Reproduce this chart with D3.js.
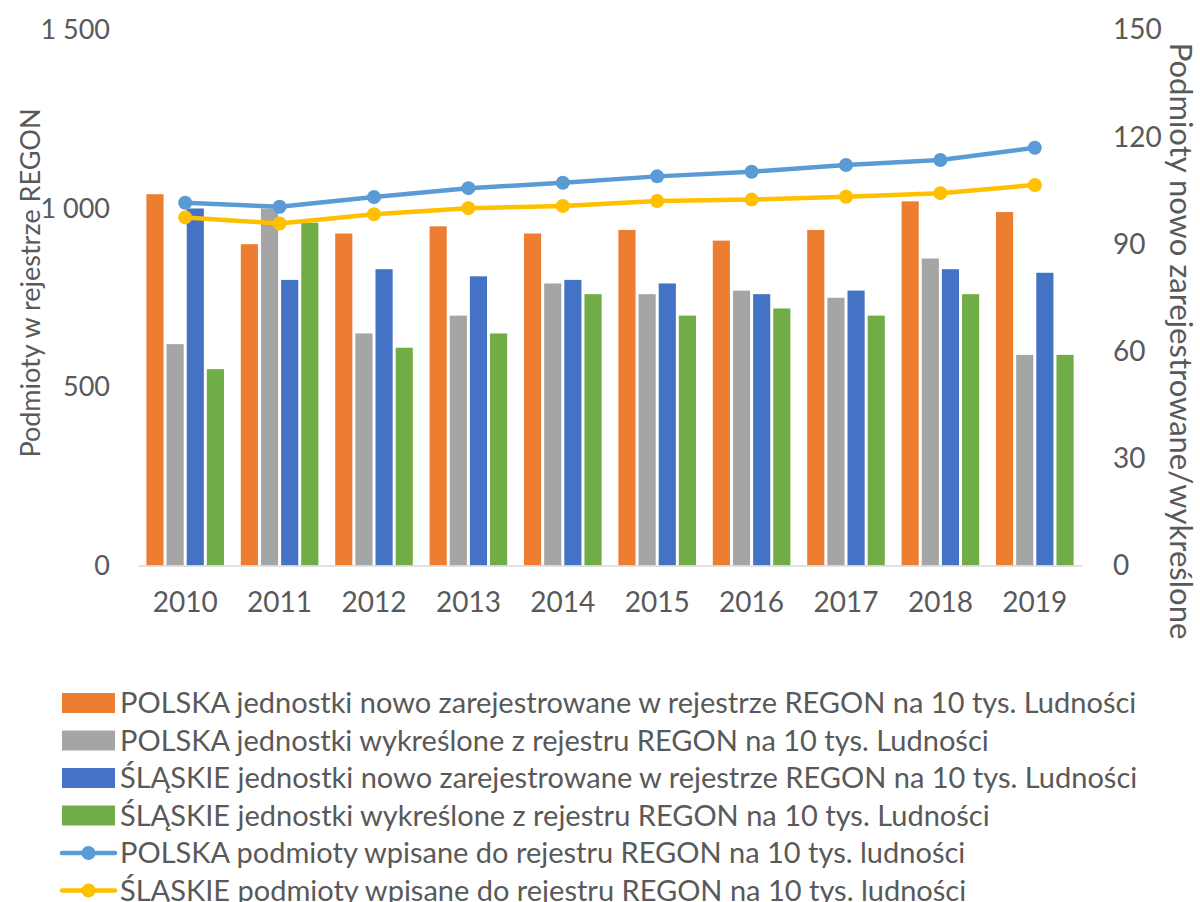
<!DOCTYPE html>
<html><head><meta charset="utf-8">
<script src="https://cdn.jsdelivr.net/npm/d3@7"></script>
<style>body{margin:0;background:#fff;} svg{display:block;} text{font-family:Lato,"Open Sans",sans-serif;fill:#595959;}</style>
</head><body><svg id="c" width="1200" height="902"></svg>
<script>
const years = ["2010","2011","2012","2013","2014","2015","2016","2017","2018","2019"];
const polskaNowe      = [104, 90, 93, 95, 93, 94, 91, 94, 102, 99];
const polskaWykreslone= [62, 100, 65, 70, 79, 76, 77, 75, 86, 59];
const slaskieNowe     = [100, 80, 83, 81, 80, 79, 76, 77, 83, 82];
const slaskieWykreslone=[55, 96, 61, 65, 76, 70, 72, 70, 76, 59];
const polskaWpisane   = [1016, 1005, 1032, 1057, 1072, 1090, 1103, 1122, 1136, 1170];
const slaskieWpisane  = [975, 958, 984, 1001, 1007, 1021, 1025, 1033, 1043, 1066];
const leftTicks = [0, 500, 1000, 1500];
const rightTicks = [0, 30, 60, 90, 120, 150];
const barSeries = [
  {name:"POLSKA jednostki nowo zarejestrowane w rejestrze REGON na 10 tys. Ludności", values:polskaNowe, color:"#ED7D31"},
  {name:"POLSKA jednostki wykreślone z rejestru REGON na 10 tys. Ludności", values:polskaWykreslone, color:"#A5A5A5"},
  {name:"ŚLĄSKIE jednostki nowo zarejestrowane w rejestrze REGON na 10 tys. Ludności", values:slaskieNowe, color:"#4472C4"},
  {name:"ŚLĄSKIE jednostki wykreślone z rejestru REGON na 10 tys. Ludności", values:slaskieWykreslone, color:"#70AD47"}
];
const lineSeries = [
  {name:"POLSKA podmioty wpisane do rejestru REGON na 10 tys. ludności", values:polskaWpisane, color:"#5B9BD5"},
  {name:"ŚLĄSKIE podmioty wpisane do rejestru REGON na 10 tys. ludności", values:slaskieWpisane, color:"#FFC000"}
];

const svg = d3.select("#c");
const L = 138, R = 1082, T = 30, B = 565.5;
const x0 = d3.scaleBand().domain(years).range([L, R]);
const bw = x0.bandwidth();
const x1 = d3.scaleBand().domain(barSeries.map((d,i)=>i)).range([6.9, bw-6.9]);
const yL = d3.scaleLinear().domain([0,1500]).range([B, T]);
const yR = d3.scaleLinear().domain([0,150]).range([B, T]);
const fmt = d3.formatLocale({decimal:",", thousands:" ", grouping:[3], currency:["",""]}).format(",");

// bars
barSeries.forEach((s, si) => {
  svg.append("g").selectAll("rect").data(s.values).join("rect")
    .attr("x", (d,i) => x0(years[i]) + x1(si) + 1.5)
    .attr("width", x1.bandwidth() - 3)
    .attr("y", d => yR(d))
    .attr("height", d => B - yR(d))
    .attr("fill", s.color);
});

// x axis
const xa = svg.append("g").attr("transform", `translate(0,${B})`)
  .call(d3.axisBottom(x0).tickSize(0).tickPadding(27));
xa.select(".domain").attr("stroke", "#D9D9D9").attr("stroke-width", 1.5);
xa.selectAll("text").style("font-size","28px").attr("fill","#595959").style("font-family","Lato");

// left axis
const la = svg.append("g").attr("transform", `translate(${L},0)`)
  .call(d3.axisLeft(yL).tickValues(leftTicks).tickFormat(fmt).tickSize(0).tickPadding(28));
la.select(".domain").remove();
la.selectAll("text").style("font-size","27px").attr("fill","#595959").style("font-family","Lato");

// right axis
const ra = svg.append("g").attr("transform", `translate(${R},0)`)
  .call(d3.axisRight(yR).tickValues(rightTicks).tickSize(0).tickPadding(31));
ra.select(".domain").remove();
ra.selectAll("text").style("font-size","28px").attr("fill","#595959").style("font-family","Lato");

// lines
const cx = (i) => x0(years[i]) + bw/2;
lineSeries.forEach(s => {
  const line = d3.line().x((d,i)=>cx(i)).y(d=>yL(d));
  svg.append("path").datum(s.values).attr("d", line)
    .attr("fill","none").attr("stroke", s.color).attr("stroke-width", 4.5).attr("stroke-linejoin","round").attr("stroke-linecap","round");
  svg.append("g").selectAll("circle").data(s.values).join("circle")
    .attr("cx",(d,i)=>cx(i)).attr("cy",d=>yL(d)).attr("r",7).attr("fill", s.color);
});

// axis titles
svg.append("text").attr("transform","translate(30,283) rotate(-90)")
  .attr("text-anchor","middle").attr("dy","0.36em").style("font-size","27px")
  .text("Podmioty w rejestrze REGON");
svg.append("text").attr("transform","translate(1181,341) rotate(90)")
  .attr("text-anchor","middle").attr("dy","0.36em").style("font-size","31px")
  .text("Podmioty nowo zarejestrowane/wykreślone");

// legend
const rowY = (i) => 703 + i*37.5;
const lg = svg.append("g");
barSeries.forEach((s,i) => {
  lg.append("rect").attr("x",62).attr("y",rowY(i)-10).attr("width",53).attr("height",20).attr("fill",s.color);
  lg.append("text").attr("x",120).attr("y",rowY(i)).attr("dy","0.36em").style("font-size","29px").text(s.name);
});
lineSeries.forEach((s,j) => {
  const i = j + barSeries.length;
  lg.append("line").attr("x1",62).attr("x2",115).attr("y1",rowY(i)).attr("y2",rowY(i))
    .attr("stroke",s.color).attr("stroke-width",4.5).attr("stroke-linecap","round");
  lg.append("circle").attr("cx",88.5).attr("cy",rowY(i)).attr("r",7).attr("fill",s.color);
  lg.append("text").attr("x",120).attr("y",rowY(i)).attr("dy","0.36em").style("font-size","29px").text(s.name);
});
</script></body></html>
